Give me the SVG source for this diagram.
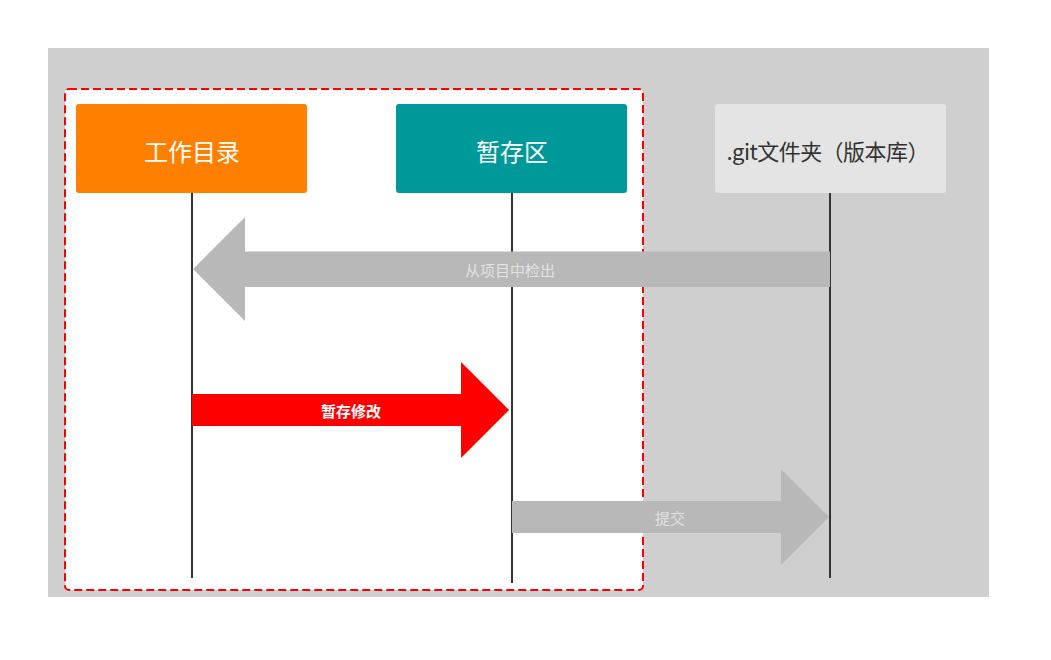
<svg xmlns="http://www.w3.org/2000/svg" width="1051" height="660" viewBox="0 0 1051 660">
<style>
.box-text{font-family:"Noto Sans CJK SC","Noto Sans",sans-serif;font-size:24px;text-anchor:middle;dominant-baseline:central}
.lbl{font-family:"Noto Sans CJK SC","Noto Sans",sans-serif;font-size:15px;text-anchor:middle;dominant-baseline:central}
.life{stroke:#333333;stroke-width:2;fill:none}
.gray-arrow{fill:#b8b8b8}
</style>
<rect x="0" y="0" width="1051" height="660" fill="#ffffff"/>
<rect x="48" y="48" width="941" height="549" fill="#cfcfcf"/>
<rect id="scope" x="65" y="89" width="578" height="501" rx="4" ry="4" fill="#ffffff" stroke="#ff0000" stroke-width="2" stroke-dasharray="8 4"/>
<g id="node-workdir">
<rect x="76" y="104" width="231" height="89" rx="3" fill="#ff8000"/>
<text class="box-text" x="192" y="150" fill="#ffffff">工作目录</text>
</g>
<g id="node-stage">
<rect x="396" y="104" width="231" height="89" rx="3" fill="#009999"/>
<text class="box-text" x="512" y="150" fill="#ffffff">暂存区</text>
</g>
<g id="node-repo">
<rect x="715" y="104" width="231" height="89" rx="3" fill="#e4e4e4"/>
<text class="box-text" x="828" y="150" fill="#333333" style="font-size:22px" textLength="203" lengthAdjust="spacing">.git文件夹（版本库）</text>
</g>
<g id="connectors">
<line class="life" x1="192" y1="193" x2="192" y2="578"/>
<line class="life" x1="512" y1="193" x2="512" y2="583"/>
<line class="life" x1="830" y1="193" x2="830" y2="578"/>
<polygon class="gray-arrow" points="193,269 245,217 245,251.5 830,251.5 830,287 245,287 245,321"/>
<text class="lbl" x="510" y="269" fill="#e2e2e2">从项目中检出</text>
<polygon fill="#ff0000" points="192,394 461,394 461,362 509,410 461,458 461,426 192,426"/>
<text class="lbl" x="351" y="410" fill="#ffffff" font-weight="bold">暂存修改</text>
<polygon class="gray-arrow" points="512,501 781,501 781,469 829,517 781,565 781,533 512,533"/>
<text class="lbl" x="670" y="517" fill="#e2e2e2">提交</text>
</g>
</svg>
